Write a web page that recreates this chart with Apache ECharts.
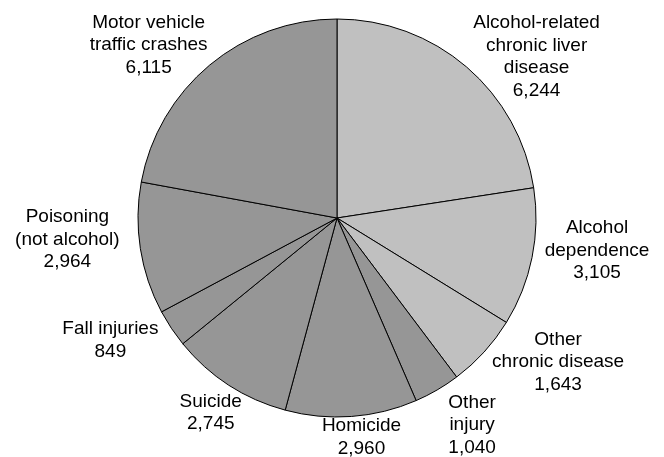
<!DOCTYPE html>
<html lang="en">
<head>
    <meta charset="UTF-8">
    <title>Alcohol-attributable deaths</title>
    <style>
        html, body { margin: 0; padding: 0; background: #fff; }
        #main { width: 664px; height: 457px; }
    </style>
</head>
<body>
<div id="main"></div>
<script src="https://cdn.jsdelivr.net/npm/echarts@6/dist/echarts.min.js"></script>
<script>
// categories, clockwise from 12 o'clock
var causes = [
    'Alcohol-related\nchronic liver\ndisease',
    'Alcohol\ndependence',
    'Other\nchronic disease',
    'Other\ninjury',
    'Homicide',
    'Suicide',
    'Fall injuries',
    'Poisoning\n(not alcohol)',
    'Motor vehicle\ntraffic crashes'
];
var deaths = [6244, 3105, 1643, 1040, 2960, 2745, 849, 2964, 6115];
// chronic causes are light, injury causes dark
var group = ['chronic', 'chronic', 'chronic', 'injury', 'injury', 'injury', 'injury', 'injury', 'injury'];

var groupColor = {chronic: '#c0c0c0', injury: '#969696'};

// pie geometry
var cx = 337, cy = 218, R = 199;

// label shift (px) from the point on the rim at the slice's mid angle
var labelShift = [
    [70, -10], [65, -7], [74, 10], [35, 35], [10, 21],
    [-18, 28], [-61, 12], [-73, -9], [-61, -20]
];

function fmt(v) {
    return v.toString().replace(/\B(?=(\d{3})+(?!\d))/g, ',');
}

var total = deaths.reduce(function (a, b) { return a + b; }, 0);
var midAngle = [];
(function () {
    var acc = 0;
    for (var i = 0; i < deaths.length; i++) {
        midAngle.push((acc + deaths[i] / 2) / total * 2 * Math.PI);
        acc += deaths[i];
    }
})();

var myChart = echarts.init(document.getElementById('main'));

var option = {
    animation: false,
    backgroundColor: '#fff',
    series: [
        {
            type: 'pie',
            center: [cx, cy],
            radius: R,
            startAngle: 90,
            clockwise: true,
            avoidLabelOverlap: false,
            silent: true,
            data: causes.map(function (name, i) {
                return {
                    name: name,
                    value: deaths[i],
                    itemStyle: {color: groupColor[group[i]]}
                };
            }),
            itemStyle: {borderColor: '#000', borderWidth: 1},
            label: {
                show: true,
                position: 'outside',
                formatter: function (p) { return p.name + '\n' + fmt(p.value); },
                color: '#000',
                fontFamily: '"Liberation Sans", Arial, sans-serif',
                fontSize: 19,
                lineHeight: 22.5,
                align: 'center'
            },
            labelLine: {show: false},
            labelLayout: function (p) {
                var i = p.dataIndex;
                var a = midAngle[i];
                return {
                    x: cx + R * Math.sin(a) + labelShift[i][0],
                    y: cy - R * Math.cos(a) + labelShift[i][1],
                    align: 'center',
                    verticalAlign: 'middle'
                };
            },
            emphasis: {disabled: true}
        }
    ]
};

myChart.setOption(option);
</script>
</body>
</html>
